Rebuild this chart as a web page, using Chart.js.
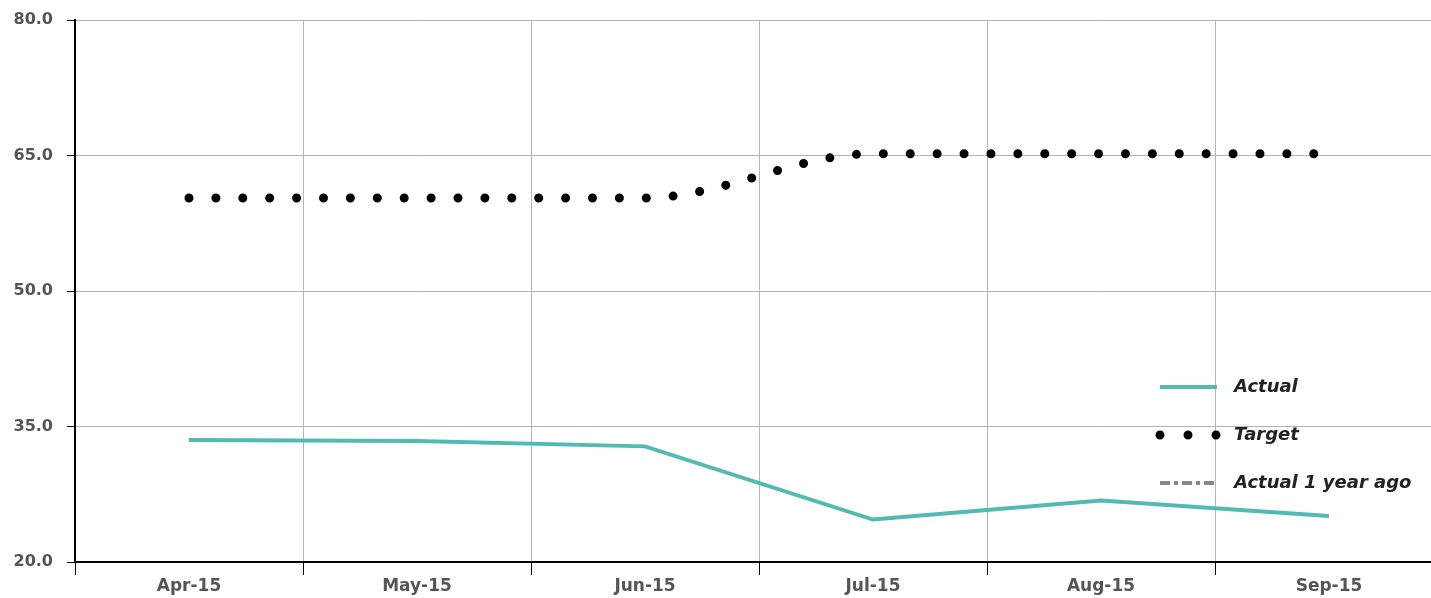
<!DOCTYPE html>
<html>
<head>
<meta charset="utf-8">
<script src="https://cdn.jsdelivr.net/npm/chart.js@4/dist/chart.umd.min.js"></script>
<style>
  html, body { margin: 0; padding: 0; background: #fff; overflow: hidden; }
  #wrap { width: 1443px; height: 598px; }
</style>
</head>
<body>
<div id="wrap"><canvas id="myChart" width="1443" height="598"></canvas></div>
<script>
const months = ["Apr-15", "May-15", "Jun-15", "Jul-15", "Aug-15", "Sep-15"];
const actual = [33.5, 33.4, 32.8, 24.7, 26.8, 25.1];
const target = [60.3, 60.3, 60.3, 65.2, 65.2, 65.2];
const actualLastYear = [null, null, null, null, null, null];
const yTicks = [20, 35, 50, 65, 80];

const fontFamily = "'DejaVu Sans', Arial, sans-serif";

// legend drawn inside the plot, bottom right, like the original
const insideLegend = {
  id: "insideLegend",
  afterDatasetsDraw(chart) {
    const ctx = chart.ctx;
    const area = chart.chartArea;
    const x0 = area.right - 283;
    const x1 = x0 + 57;
    let y = 387;
    chart.data.datasets.forEach((ds) => {
      ctx.save();
      ctx.beginPath();
      ctx.strokeStyle = ds.borderColor;
      ctx.lineWidth = ds.borderWidth;
      ctx.lineCap = ds.borderCapStyle || "butt";
      ctx.setLineDash(ds.legendDash || ds.borderDash || []);
      ctx.moveTo(x0, y);
      ctx.lineTo(x1, y);
      ctx.stroke();
      ctx.restore();

      ctx.save();
      ctx.fillStyle = "#222";
      ctx.font = "italic bold 18px " + fontFamily;
      ctx.textBaseline = "middle";
      ctx.fillText(ds.label, x1 + 17, y);
      ctx.restore();
      y += 48;
    });
  }
};

const ctx = document.getElementById("myChart").getContext("2d");
new Chart(ctx, {
  type: "line",
  data: {
    labels: months,
    datasets: [
      {
        label: "Actual",
        data: actual,
        borderColor: "#52b9b3",
        borderWidth: 4,
        pointRadius: 0,
        tension: 0
      },
      {
        label: "Target",
        data: target,
        borderColor: "#000",
        borderWidth: 9,
        borderCapStyle: "round",
        borderDash: [0, 26.9],
        legendDash: [0, 28],
        cubicInterpolationMode: "monotone",
        pointRadius: 0
      },
      {
        label: "Actual 1 year ago",
        data: actualLastYear,
        borderColor: "#888",
        borderWidth: 4,
        borderDash: [10, 4, 4, 4],
        pointRadius: 0
      }
    ]
  },
  options: {
    responsive: false,
    animation: false,
    layout: { padding: { top: 20, right: 0, bottom: 0, left: 0 } },
    plugins: {
      legend: { display: false },
      tooltip: { enabled: false }
    },
    scales: {
      x: {
        offset: true,
        grid: {
          offset: true,
          color: "#b4b4b4",
          tickColor: "#000",
          tickLength: 13,
          lineWidth: 1
        },
        border: { color: "#000", width: 2 },
        ticks: {
          color: "#555",
          font: { family: fontFamily, size: 17, weight: "bold" },
          padding: 1,
          maxRotation: 0
        },
        afterFit(scale) { scale.height = 36; }
      },
      y: {
        min: 20,
        max: 80,
        afterBuildTicks(scale) { scale.ticks = yTicks.map((v) => ({ value: v })); },
        grid: {
          color: "#b4b4b4",
          tickColor: "#000",
          tickLength: 8,
          lineWidth: 1
        },
        border: { color: "#000", width: 2 },
        ticks: {
          color: "#555",
          font: { family: fontFamily, size: 16, weight: "bold" },
          padding: 14,
          callback: (v) => Number(v).toFixed(1)
        },
        afterFit(scale) {
          scale.width = 75;
          scale.paddingTop = 0;
          scale.paddingBottom = 0;
        }
      }
    }
  },
  plugins: [insideLegend]
});
</script>
</body>
</html>
